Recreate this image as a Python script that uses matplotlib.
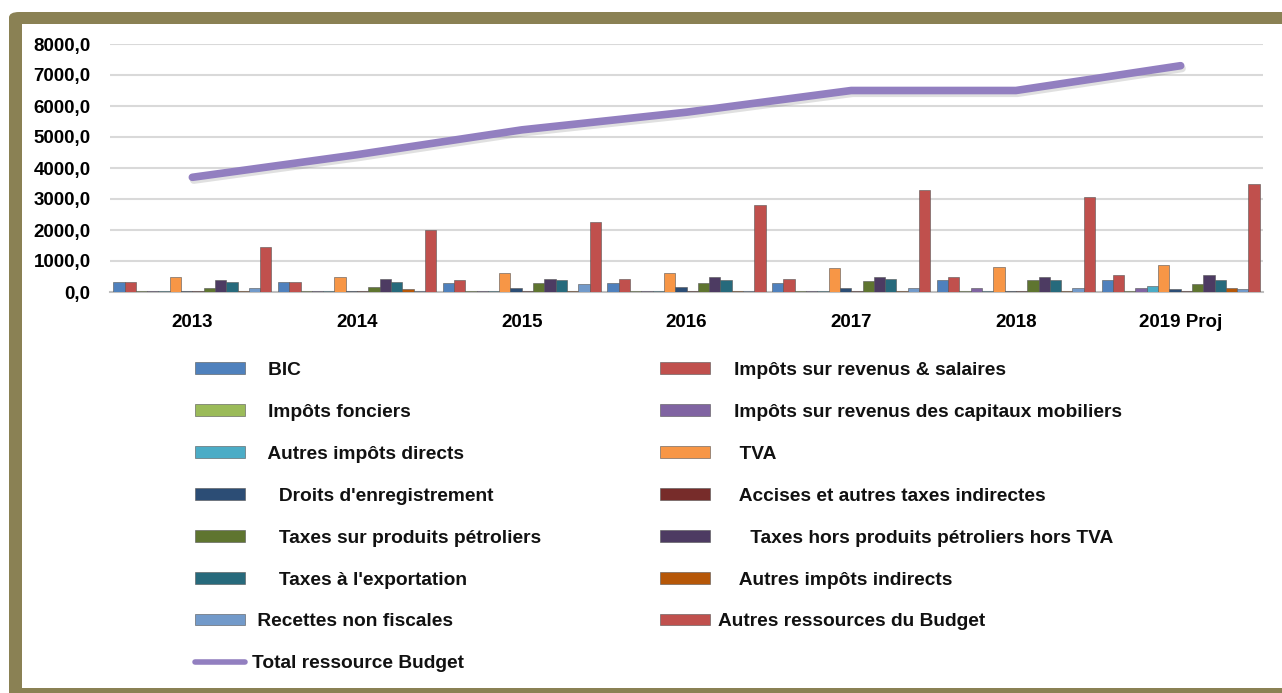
import numpy as np
import matplotlib
matplotlib.use("Agg")
import matplotlib.pyplot as plt
import matplotlib.patheffects as pe
from matplotlib.patches import FancyBboxPatch, Rectangle, Patch
from matplotlib.lines import Line2D
from matplotlib.ticker import FuncFormatter

plt.rcParams['font.family'] = ['Liberation Sans Narrow', 'Liberation Sans', 'DejaVu Sans']

years = ['2013', '2014', '2015', '2016', '2017', '2018', '2019 Proj']

bic = [320, 320, 300, 300, 300, 380, 380]
imp_revenus = [320, 320, 380, 410, 430, 480, 540]
imp_fonciers = [20, 20, 20, 20, 20, 20, 30]
imp_capitaux = [20, 20, 20, 20, 30, 130, 130]
autres_directs = [20, 20, 20, 20, 30, 30, 190]
tva = [500, 500, 610, 610, 760, 810, 880]
droits = [30, 30, 130, 150, 130, 40, 100]
accises = [20, 30, 20, 20, 20, 20, 20]
petroliers = [130, 150, 300, 300, 350, 380, 250]
hors_petroliers = [380, 430, 430, 470, 480, 480, 540]
exportation = [320, 320, 380, 380, 430, 380, 380]
autres_indirects = [30, 100, 20, 20, 20, 20, 145]
recettes = [130, 30, 250, 30, 130, 145, 100]
autres_ressources = [1450, 2000, 2250, 2820, 3300, 3060, 3500]
total = [3700, 4430, 5230, 5800, 6500, 6500, 7300]

series = [
    ("BIC", bic, "#4F81BD"),
    ("Impôts sur revenus & salaires", imp_revenus, "#C0504D"),
    ("Impôts fonciers", imp_fonciers, "#9BBB59"),
    ("Impôts sur revenus des capitaux mobiliers", imp_capitaux, "#8064A2"),
    ("Autres impôts directs", autres_directs, "#4BACC6"),
    ("TVA", tva, "#F79646"),
    ("Droits d'enregistrement", droits, "#2C4D75"),
    ("Accises et autres taxes indirectes", accises, "#772C2A"),
    ("Taxes sur produits pétroliers", petroliers, "#5F7530"),
    ("Taxes hors produits pétroliers hors TVA", hors_petroliers, "#4D3B62"),
    ("Taxes à l'exportation", exportation, "#276A7C"),
    ("Autres impôts indirects", autres_indirects, "#B65708"),
    ("Recettes non fiscales", recettes, "#729ACA"),
    ("Autres ressources du Budget", autres_ressources, "#C0504D"),
]
# labels as shown in the legend (with the odd spacing of the original)
legend_text = {
    "BIC": "   BIC",
    "Impôts fonciers": "   Impôts fonciers",
    "Autres impôts directs": "   Autres impôts directs",
    "Droits d'enregistrement": "     Droits d'enregistrement",
    "Taxes sur produits pétroliers": "     Taxes sur produits pétroliers",
    "Taxes à l'exportation": "     Taxes à l'exportation",
    "Recettes non fiscales": " Recettes non fiscales",
    "Impôts sur revenus & salaires": "   Impôts sur revenus & salaires",
    "Impôts sur revenus des capitaux mobiliers": "   Impôts sur revenus des capitaux mobiliers",
    "TVA": "    TVA",
    "Accises et autres taxes indirectes": "    Accises et autres taxes indirectes",
    "Taxes hors produits pétroliers hors TVA": "      Taxes hors produits pétroliers hors TVA",
    "Autres impôts indirects": "    Autres impôts indirects",
    "Autres ressources du Budget": "Autres ressources du Budget",
}

W, H = 1282, 693
fig = plt.figure(figsize=(W / 100, H / 100), dpi=100)
fig.patch.set_facecolor('white')

# olive frame
frame_col = '#8A8154'
outer = FancyBboxPatch((9 / W, -0.1), 1.2, 1.1 - 12 / H,
                       boxstyle="round,pad=0,rounding_size=0.008",
                       transform=fig.transFigure, facecolor=frame_col,
                       edgecolor='none', zorder=-10)
fig.patches.append(outer)
inner = Rectangle((22 / W, 5 / H), 1.2, (688 - 24) / H,
                  transform=fig.transFigure, facecolor='white',
                  edgecolor='none', zorder=-9)
fig.patches.append(inner)

ax = fig.add_axes([110 / W, (H - 292) / H, (1263 - 110) / W, (292 - 44) / H])
ax.set_facecolor('none')

x = np.arange(len(years))
n = len(series)
w = 0.96 / n
bar_handles = []
for i, (name, vals, col) in enumerate(series):
    ax.bar(x + (i - (n - 1) / 2) * w, vals, width=w, color=col,
           edgecolor='#555555', linewidth=0.4, zorder=3)
    bar_handles.append(Patch(facecolor=col, edgecolor='#555555', linewidth=0.4,
                             label=legend_text[name]))

line_col = '#927FC0'
ax.plot(x, total, color=line_col, lw=5.5, solid_capstyle='round', zorder=5,
        path_effects=[pe.SimpleLineShadow(offset=(1, -2), shadow_color='#666666', alpha=0.2),
                      pe.Normal()])
line_handle = Line2D([], [], color=line_col, lw=4, solid_capstyle='round',
                     label='Total ressource Budget')

ax.set_xlim(-0.5, len(years) - 0.5)
ax.set_ylim(0, 8000)
ax.set_yticks(np.arange(0, 8001, 1000))
ax.yaxis.set_major_formatter(FuncFormatter(lambda v, p: f"{v:.1f}".replace('.', ',')))
ax.set_xticks(x)
ax.set_xticklabels(years)
ax.tick_params(axis='both', length=0, labelsize=13.5)
ax.tick_params(axis='y', pad=14)
ax.tick_params(axis='x', pad=16)
for lab in ax.get_xticklabels() + ax.get_yticklabels():
    lab.set_fontweight('bold')
ax.grid(axis='y', color='#D9D9D9', lw=1.5, zorder=0)
for s in ['top', 'right', 'left']:
    ax.spines[s].set_visible(False)
ax.spines['bottom'].set_color('#BFBFBF')
ax.spines['bottom'].set_linewidth(1.5)

left_h = bar_handles[0::2] + [line_handle]
right_h = bar_handles[1::2]

common = dict(frameon=False, fontsize=13.8, handlelength=2.6, handleheight=0.55,
              handletextpad=0.4, labelspacing=1.3, borderpad=0, borderaxespad=0,
              loc='upper left')
leg1 = fig.legend(handles=left_h, bbox_to_anchor=(195 / W, 1 - 362 / H), **common)
leg2 = fig.legend(handles=right_h, bbox_to_anchor=(660 / W, 1 - 362 / H), **common)
for leg in (leg1, leg2):
    for t in leg.get_texts():
        t.set_fontweight('bold')
        t.set_color('#111111')

fig.savefig('out.png', dpi=100)
